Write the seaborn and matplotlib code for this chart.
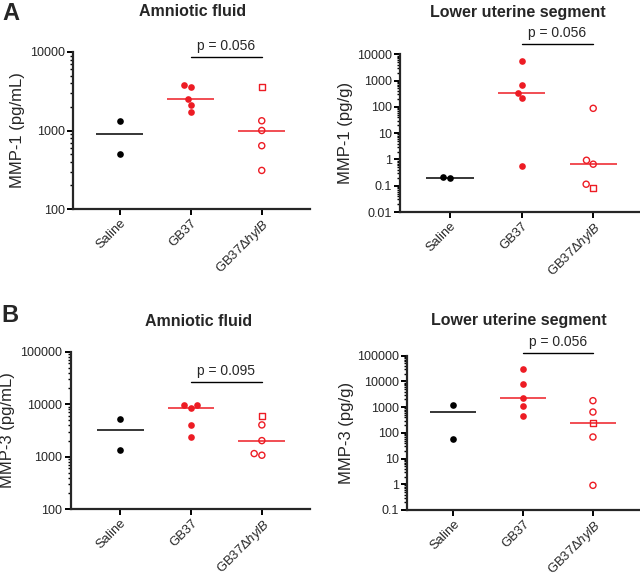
import matplotlib
matplotlib.use("Agg")
import matplotlib.pyplot as plt
import matplotlib.transforms as mtransforms
from matplotlib.markers import MarkerStyle
from matplotlib.ticker import LogLocator, NullFormatter
import numpy as np
import pandas as pd
import seaborn as sns

W, H = 640, 580

groups = ["Saline", "GB37", "GB37ΔhylB"]
group_labels = ["Saline", "GB37", r"GB37Δ$\mathit{hylB}$"]

# A - MMP-1, amniotic fluid (pg/mL)
af1_saline = [1330, 500]
af1_gb37 = [3800, 3600, 2500, 2100, 1720]
af1_hylb = [1330, 1000, 640, 310]
af1_hylb_sq = [3550]

# A - MMP-1, lower uterine segment (pg/g)
lus1_saline = [0.19, 0.22]
lus1_gb37 = [5600, 700, 340, 210, 0.57]
lus1_hylb = [88, 0.93, 0.66, 0.114]
lus1_hylb_sq = [0.085]

# B - MMP-3, amniotic fluid (pg/mL)
af3_saline = [5250, 1330]
af3_gb37 = [9700, 9500, 8600, 3980, 2360]
af3_hylb = [4040, 2030, 1150, 1070]
af3_hylb_sq = [6070]

# B - MMP-3, lower uterine segment (pg/g)
lus3_saline = [1180, 59]
lus3_gb37 = [31000, 8100, 2200, 1080, 440]
lus3_hylb = [1780, 645, 69, 0.91]
lus3_hylb_sq = [234]

sns.set_style("ticks")
plt.rcParams["font.family"] = ["Liberation Sans", "DejaVu Sans"]
plt.rcParams["mathtext.fontset"] = "custom"
plt.rcParams["mathtext.rm"] = "Liberation Sans"
plt.rcParams["mathtext.it"] = "Liberation Sans:italic"

RED = "#ed1c24"
BLACK = "#000000"

mk = MarkerStyle("o")
circle_path = mk.get_path().transformed(mk.get_transform())
mk = MarkerStyle("s")
square_path = mk.get_path().transformed(mk.get_transform())

# layout in pixels: (left, top, right, bottom)
panels = [
    dict(rect=(73, 52, 310, 209), xlim=(-0.66, 2.68), ylim=(1e2, 1e4),
         title="Amniotic fluid", title_xy=(193, 12),
         ylabel="MMP-1 (pg/mL)", ylabel_x=-0.203,
         p="p = 0.056", bracket_y=0.970,
         saline=af1_saline, gb37=af1_gb37, hylb=af1_hylb, hylb_sq=af1_hylb_sq),
    dict(rect=(400, 54.3, 639, 212), xlim=(-0.70, 2.64), ylim=(1e-2, 1e4),
         title="Lower uterine segment", title_xy=(518, 12),
         ylabel="MMP-1 (pg/g)", ylabel_x=-0.197,
         p="p = 0.056", bracket_y=1.067,
         saline=lus1_saline, gb37=lus1_gb37, hylb=lus1_hylb, hylb_sq=lus1_hylb_sq),
    dict(rect=(70.7, 351.7, 310, 509.3), xlim=(-0.70, 2.68), ylim=(1e2, 1e5),
         title="Amniotic fluid", title_xy=(199, 322),
         ylabel="MMP-3 (pg/mL)", ylabel_x=-0.233,
         p="p = 0.095", bracket_y=0.806,
         saline=af3_saline, gb37=af3_gb37, hylb=af3_hylb, hylb_sq=af3_hylb_sq),
    dict(rect=(407.3, 355.7, 639, 510), xlim=(-0.66, 2.66), ylim=(1e-1, 1e5),
         title="Lower uterine segment", title_xy=(519, 320),
         ylabel="MMP-3 (pg/g)", ylabel_x=-0.229,
         p="p = 0.056", bracket_y=1.016,
         saline=lus3_saline, gb37=lus3_gb37, hylb=lus3_hylb, hylb_sq=lus3_hylb_sq),
]

fig = plt.figure(figsize=(W / 100, H / 100), dpi=100)

for pn in panels:
    l, t, r, b = pn["rect"]
    ax = fig.add_axes([l / W, 1 - b / H, (r - l) / W, (b - t) / H])

    sets = [
        (groups[0], pn["saline"], [], BLACK, True),
        (groups[1], pn["gb37"], [], RED, True),
        (groups[2], pn["hylb"], pn["hylb_sq"], RED, False),
    ]
    for i, (grp, vals, sq, col, filled) in enumerate(sets):
        allv = list(vals) + list(sq)
        sub = pd.DataFrame({"group": grp, "value": allv})
        sns.swarmplot(data=sub, x="group", y="value", order=groups,
                      log_scale=(False, True), color=col,
                      size=4.8 if filled else 4.4, ax=ax, zorder=3)
        pts = ax.collections[-1]
        if not filled:
            pts.set_facecolor("none")
            pts.set_edgecolor(col)
            pts.set_linewidth(1.0)
            pts.set_paths([circle_path] * len(vals) + [square_path] * len(sq))
        # median line
        ax.hlines(np.median(allv), i - 0.33, i + 0.33, color=col, lw=1.1, zorder=2)

    ax.set_xlim(*pn["xlim"])
    ax.set_ylim(*pn["ylim"])
    lo, hi = np.log10(pn["ylim"])
    ticks = 10.0 ** np.arange(round(lo), round(hi) + 1)
    ax.set_yticks(ticks, [f"{v:g}" for v in ticks])
    ax.yaxis.set_minor_locator(LogLocator(base=10, subs=np.arange(2, 10), numticks=100))
    ax.yaxis.set_minor_formatter(NullFormatter())
    ax.set_xticks(range(3), group_labels, rotation=45, ha="right", va="top",
                  rotation_mode="anchor")
    ax.set_xlabel("")
    ax.set_ylabel(pn["ylabel"], fontsize=12)
    ax.yaxis.set_label_coords(pn["ylabel_x"], 0.5)

    sns.despine(ax=ax)
    for s in ["left", "bottom"]:
        ax.spines[s].set_linewidth(1.6)
    ax.tick_params(which="major", length=4, width=1.4, color="black")
    ax.tick_params(which="minor", length=2, width=1.0, color="black")
    ax.tick_params(axis="y", labelsize=9, pad=2)
    ax.tick_params(axis="x", labelsize=9.4, pad=1.5)

    # significance bracket
    trans = mtransforms.blended_transform_factory(ax.transData, ax.transAxes)
    ax.plot([1, 2], [pn["bracket_y"]] * 2, transform=trans, color="black",
            lw=1.0, clip_on=False)
    ax.annotate(pn["p"], xy=(1.5, pn["bracket_y"]), xycoords=trans,
                xytext=(0, 3), textcoords="offset points",
                ha="center", va="bottom", fontsize=10)

    tx, ty = pn["title_xy"]
    fig.text(tx / W, 1 - ty / H, pn["title"], ha="center", va="center",
             fontsize=11.5, fontweight="bold")

fig.text(11 / W, 1 - 13 / H, "A", ha="center", va="center", fontsize=17, fontweight="bold")
fig.text(10 / W, 1 - 315 / H, "B", ha="center", va="center", fontsize=17, fontweight="bold")

fig.savefig("out.png", dpi=100)
